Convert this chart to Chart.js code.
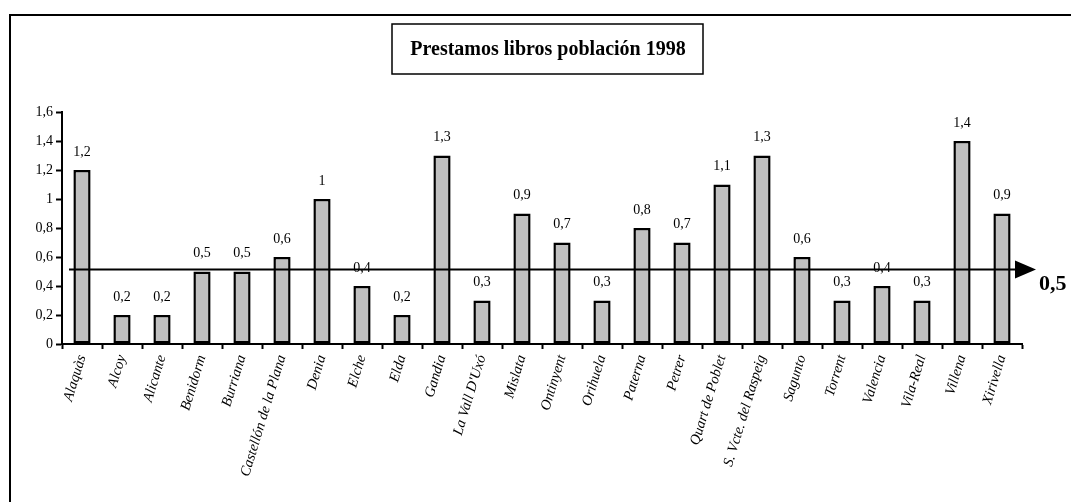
<!DOCTYPE html>
<html>
<head>
<meta charset="utf-8">
<script src="https://cdn.jsdelivr.net/npm/chart.js@4"></script>
<style>
  body { margin: 0; background: #fff; }
  #wrap { width: 1071px; height: 502px; }
</style>
</head>
<body>
<div id="wrap"><canvas id="prestamosChart" width="1071" height="502"></canvas></div>
<script>
const municipios = [
    'Alaquàs', 'Alcoy', 'Alicante', 'Benidorm', 'Burriana', 'Castellón de la Plana',
    'Denia', 'Elche', 'Elda', 'Gandia', "La Vall D'Uxó", 'Mislata',
    'Ontinyent', 'Orihuela', 'Paterna', 'Petrer', 'Quart de Poblet', 'S. Vcte. del Raspeig',
    'Sagunto', 'Torrent', 'Valencia', 'Vila-Real', 'Villena', 'Xirivella'
];
const prestamos = [
    1.2, 0.2, 0.2, 0.5, 0.5, 0.6,
    1, 0.4, 0.2, 1.3, 0.3, 0.9,
    0.7, 0.3, 0.8, 0.7, 1.1, 1.3,
    0.6, 0.3, 0.4, 0.3, 1.4, 0.9
];
const yTicks = [0, 0.2, 0.4, 0.6, 0.8, 1, 1.2, 1.4, 1.6];
const media = 0.5;
const titulo = 'Prestamos libros población 1998';

const coma = v => String(Math.round(v * 10) / 10).replace('.', ',');
const serif = '"Liberation Serif", "Times New Roman", serif';

// marco, titulo, linea de la media y etiquetas de valor
const decoracion = {
    id: 'decoracion',
    beforeDraw(chart) {
        const c = chart.ctx;
        c.save();
        c.fillStyle = '#fff';
        c.fillRect(0, 0, chart.width, chart.height);
        c.strokeStyle = '#000';
        c.lineWidth = 2;
        c.beginPath();
        c.moveTo(10, chart.height);
        c.lineTo(10, 15);
        c.lineTo(chart.width, 15);
        c.stroke();

        c.lineWidth = 1.5;
        c.strokeRect(392, 24, 311, 50);
        c.fillStyle = '#000';
        c.font = 'bold 20px ' + serif;
        c.textAlign = 'center';
        c.textBaseline = 'middle';
        c.fillText(titulo, 548, 50);
        c.restore();
    },
    afterDatasetsDraw(chart) {
        const c = chart.ctx;
        const meta = chart.getDatasetMeta(0);
        c.save();
        c.fillStyle = '#000';
        c.font = '14px ' + serif;
        c.textAlign = 'center';
        c.textBaseline = 'middle';
        meta.data.forEach((bar, i) => {
            c.fillText(coma(prestamos[i]), bar.x, bar.y - 18);
        });

        const y = chart.scales.y.getPixelForValue(media) - 2;
        c.strokeStyle = '#000';
        c.lineWidth = 2;
        c.beginPath();
        c.moveTo(69, y);
        c.lineTo(1016, y);
        c.stroke();
        c.beginPath();
        c.moveTo(1015, y - 9);
        c.lineTo(1036, y);
        c.lineTo(1015, y + 9);
        c.closePath();
        c.fill();

        c.font = 'bold 22px ' + serif;
        c.textAlign = 'left';
        c.fillText(coma(media), 1039, y + 15);
        c.restore();
    }
};

new Chart(document.getElementById('prestamosChart'), {
    type: 'bar',
    data: {
        labels: municipios,
        datasets: [{
            label: titulo,
            data: prestamos,
            backgroundColor: '#c0c0c0',
            borderColor: '#000',
            borderWidth: 2.5,
            borderSkipped: false,
            barPercentage: 0.43,
            categoryPercentage: 1
        }]
    },
    options: {
        responsive: false,
        animation: false,
        layout: { padding: { top: 112, right: 49, left: 0, bottom: 0 } },
        plugins: {
            legend: { display: false },
            tooltip: { enabled: false }
        },
        scales: {
            x: {
                afterFit: s => { s.height = 158; },
                grid: { drawOnChartArea: false, offset: true, tickLength: 5, tickWidth: 2, tickColor: '#000' },
                border: { display: true, color: '#000', width: 2 },
                ticks: {
                    color: '#000',
                    font: { family: serif, size: 14.5, style: 'italic' },
                    minRotation: 73,
                    maxRotation: 73,
                    autoSkip: false,
                    padding: 4
                }
            },
            y: {
                min: 0,
                max: 1.6,
                afterFit: s => { s.width = 62; },
                afterBuildTicks: s => { s.ticks = yTicks.map(v => ({ value: v })); },
                grid: { drawOnChartArea: false, tickLength: 6, tickWidth: 2, tickColor: '#000' },
                border: { display: true, color: '#000', width: 2 },
                ticks: {
                    color: '#000',
                    font: { family: serif, size: 14 },
                    padding: 3,
                    callback: v => coma(v)
                }
            }
        }
    },
    plugins: [decoracion]
});
</script>
</body>
</html>
